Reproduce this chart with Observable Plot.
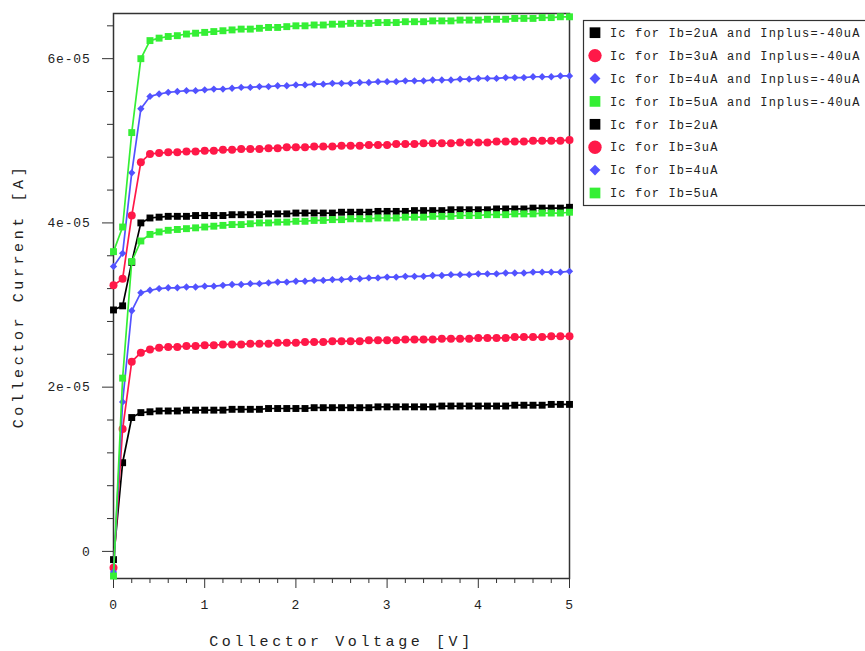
<!DOCTYPE html>
<html><head><meta charset="utf-8">
<script src="https://cdn.jsdelivr.net/npm/d3@7"></script>
<script src="https://cdn.jsdelivr.net/npm/@observablehq/plot@0.6"></script>
<style>
html,body{margin:0;padding:0;background:#fff;overflow:hidden;width:865px;height:651px}
#chart{position:absolute;left:0;top:0}
#legend{position:absolute;left:583px;top:20px;overflow:visible}
</style></head><body>
<div id="chart"></div>
<svg id="legend" width="300" height="186"></svg>
<script>
// Collector voltage [V]
const voltages = [0.0,0.1,0.2,0.3,0.4,0.5,0.6,0.7,0.8,0.9,1.0,1.1,1.2,1.3,1.4,1.5,1.6,1.7,1.8,1.9,2.0,2.1,2.2,2.3,2.4,2.5,2.6,2.7,2.8,2.9,3.0,3.1,3.2,3.3,3.4,3.5,3.6,3.7,3.8,3.9,4.0,4.1,4.2,4.3,4.4,4.5,4.6,4.7,4.8,4.9,5.0];

// Collector current, in microamps
const ic2A = [29.4,29.9,35.2,40.0,40.6,40.7,40.8,40.8,40.8,40.9,40.9, 40.9,40.9,41.0,41.0,41.0,41.0,41.1,41.1,41.1,41.2, 41.2,41.2,41.2,41.2,41.3,41.3,41.3,41.3,41.4,41.4, 41.4,41.4,41.5,41.5,41.5,41.5,41.6,41.6,41.6,41.6, 41.6,41.7,41.7,41.7,41.7,41.8,41.8,41.8,41.8,41.9];
const ic3A = [32.4,33.2,40.9,47.4,48.4,48.5,48.6,48.6,48.7,48.7,48.8, 48.8,48.9,48.9,49.0,49.0,49.0,49.1,49.1,49.2,49.2, 49.2,49.3,49.3,49.3,49.4,49.4,49.4,49.5,49.5,49.5, 49.6,49.6,49.6,49.7,49.7,49.7,49.7,49.8,49.8,49.8, 49.8,49.9,49.9,49.9,49.9,50.0,50.0,50.0,50.0,50.1];
const ic4A = [34.7,36.3,46.1,53.9,55.4,55.7,55.9,56.0,56.1,56.1,56.2, 56.3,56.3,56.4,56.5,56.5,56.6,56.6,56.7,56.7,56.8, 56.8,56.9,56.9,57.0,57.0,57.0,57.1,57.1,57.2,57.2, 57.2,57.3,57.3,57.3,57.4,57.4,57.4,57.5,57.5,57.6, 57.6,57.6,57.7,57.7,57.7,57.8,57.8,57.8,57.9,57.9];
const ic5A = [36.5,39.5,51.0,60.0,62.2,62.5,62.7,62.8,63.0,63.1,63.2, 63.3,63.4,63.5,63.6,63.6,63.7,63.8,63.8,63.9,64.0, 64.0,64.1,64.1,64.2,64.2,64.3,64.3,64.3,64.4,64.4, 64.4,64.5,64.5,64.5,64.6,64.6,64.6,64.7,64.7,64.7, 64.8,64.8,64.8,64.9,64.9,64.9,65.0,65.0,65.1,65.1];
const ic2 = [-1.0,10.8,16.3,16.9,17.0,17.1,17.1,17.1,17.2,17.2,17.2, 17.2,17.2,17.3,17.3,17.3,17.3,17.4,17.4,17.4,17.4, 17.4,17.5,17.5,17.5,17.5,17.5,17.5,17.5,17.6,17.6, 17.6,17.6,17.6,17.6,17.6,17.7,17.7,17.7,17.7,17.7, 17.7,17.7,17.7,17.8,17.8,17.8,17.8,17.9,17.9,17.9];
const ic3 = [-2.0,14.9,23.1,24.2,24.6,24.8,24.9,24.9,25.0,25.0,25.1, 25.1,25.2,25.2,25.2,25.3,25.3,25.3,25.4,25.4,25.4, 25.5,25.5,25.5,25.6,25.6,25.6,25.6,25.7,25.7,25.7, 25.7,25.8,25.8,25.8,25.8,25.9,25.9,25.9,25.9,26.0, 26.0,26.0,26.0,26.1,26.1,26.1,26.1,26.2,26.2,26.2];
const ic4 = [-2.5,18.2,29.3,31.5,31.8,32.0,32.1,32.1,32.2,32.2,32.3, 32.3,32.4,32.5,32.5,32.6,32.6,32.7,32.8,32.8,32.9, 32.9,33.0,33.0,33.1,33.1,33.2,33.2,33.3,33.3,33.4, 33.4,33.5,33.5,33.5,33.6,33.6,33.7,33.7,33.7,33.8, 33.8,33.8,33.9,33.9,33.9,34.0,34.0,34.0,34.0,34.1];
const ic5 = [-3.0,21.1,35.3,37.8,38.6,38.9,39.1,39.2,39.3,39.4,39.5, 39.6,39.7,39.8,39.8,39.9,40.0,40.0,40.1,40.1,40.2, 40.2,40.3,40.3,40.4,40.4,40.5,40.5,40.5,40.6,40.6, 40.6,40.7,40.7,40.7,40.8,40.8,40.8,40.9,40.9,40.9, 41.0,41.0,41.0,41.1,41.1,41.1,41.2,41.2,41.2,41.3];

const seriesNames = [
  "Ic for Ib=2uA and Inplus=-40uA",
  "Ic for Ib=3uA and Inplus=-40uA",
  "Ic for Ib=4uA and Inplus=-40uA",
  "Ic for Ib=5uA and Inplus=-40uA",
  "Ic for Ib=2uA",
  "Ic for Ib=3uA",
  "Ic for Ib=4uA",
  "Ic for Ib=5uA"
];
const seriesValues = [ic2A, ic3A, ic4A, ic5A, ic2, ic3, ic4, ic5];
const seriesColors = ["#000000","#ff1848","#5252ff","#35ef35","#000000","#ff1848","#5252ff","#35ef35"];
const seriesSymbols = ["square","circle","diamond2","square","square","circle","diamond2","square"];

const xTicks = [0,1,2,3,4,5];
const xTickLabels = ["0","1","2","3","4","5"];
const xMinor = [0.2,0.4,0.6,0.8,1.2,1.4,1.6,1.8,2.2,2.4,2.6,2.8,3.2,3.4,3.6,3.8,4.2,4.4,4.6,4.8];
const yTicks = [0,2e-5,4e-5,6e-5];
const yTickLabels = ["0","2e-05","4e-05","6e-05"];
const yMinor = [0.4e-5,0.8e-5,1.2e-5,1.6e-5,2.4e-5,2.8e-5,3.2e-5,3.6e-5,4.4e-5,4.8e-5,5.2e-5,5.6e-5,6.4e-5];
const xTitle = "Collector Voltage [V]";
const yTitle = "Collector Current [A]";

const rows = seriesNames.flatMap((name, s) =>
  voltages.map((v, i) => ({V: v, I: seriesValues[s][i] * 1e-6, series: name})));

const FONT = "Liberation Mono, DejaVu Sans Mono, monospace";
const symR = {square: 3.9, circle: 4, diamond2: 3.3};

const marks = [
  Plot.frame({stroke: "#333", strokeWidth: 1.5}),
  Plot.axisX(xMinor, {tickSize: 5, tickFormat: () => "", label: null, stroke: "#333"}),
  Plot.axisX(xTicks, {tickSize: 10, tickPadding: 11, tickFormat: d => xTickLabels[xTicks.indexOf(d)], label: null, stroke: "#333", fill: "#222"}),
  Plot.axisY(yMinor, {tickSize: 6, tickFormat: () => "", label: null, stroke: "#333"}),
  Plot.axisY(yTicks, {tickSize: 11, tickPadding: 12, tickFormat: d => yTickLabels[yTicks.indexOf(d)], label: null, stroke: "#333", fill: "#222"})
];
seriesNames.forEach((name, s) => {
  const d = rows.filter(r => r.series === name);
  marks.push(Plot.line(d, {x: "V", y: "I", stroke: seriesColors[s], strokeWidth: 1.7}));
  marks.push(Plot.dot(d, {x: "V", y: "I", fill: seriesColors[s], stroke: "none", symbol: () => seriesSymbols[s], r: symR[seriesSymbols[s]]}));
});
marks.push(Plot.text([xTitle], {frameAnchor: "bottom", dy: 63, textAnchor: "middle", lineAnchor: "middle", fontSize: 15, fill: "#222", className: "title"}));
marks.push(Plot.text([yTitle], {frameAnchor: "left", dx: -95, rotate: -90, textAnchor: "middle", lineAnchor: "middle", fontSize: 15, fill: "#222", className: "title"}));

const chart = Plot.plot({
  width: 865, height: 651,
  marginLeft: 113, marginRight: 296, marginTop: 13, marginBottom: 73,
  x: {domain: [0, 5]},
  y: {domain: [-3.3e-6, 6.55e-5]},
  style: {fontFamily: FONT, fontSize: "13px", background: "#fff", overflow: "visible"},
  marks
});
document.getElementById("chart").appendChild(chart);
d3.select(chart).selectAll("text").style("letter-spacing", "0.8px");
d3.select(chart).selectAll(".title text, g.title text").style("letter-spacing", "3.6px");

// legend
const lg = d3.select("#legend");
lg.append("rect").attr("x", 0.5).attr("y", 0.5).attr("width", 320).attr("height", 185)
  .attr("fill", "#fff").attr("stroke", "#333").attr("stroke-width", 1.2);
const legSize = {square: 115, circle: 140, diamond2: 75};
const d3sym = {square: d3.symbolSquare, circle: d3.symbolCircle, diamond2: d3.symbolDiamond2};
seriesNames.forEach((name, s) => {
  const cy = 12.7 + s * 22.9;
  lg.append("path").attr("transform", `translate(12,${cy})`)
    .attr("d", d3.symbol(d3sym[seriesSymbols[s]], legSize[seriesSymbols[s]])())
    .attr("fill", seriesColors[s]);
  lg.append("text").attr("x", 27).attr("y", cy).attr("dy", "0.35em")
    .attr("font-family", FONT).attr("font-size", 12).attr("fill", "#222")
    .style("letter-spacing", "1.15px").text(name);
});
</script></body></html>
